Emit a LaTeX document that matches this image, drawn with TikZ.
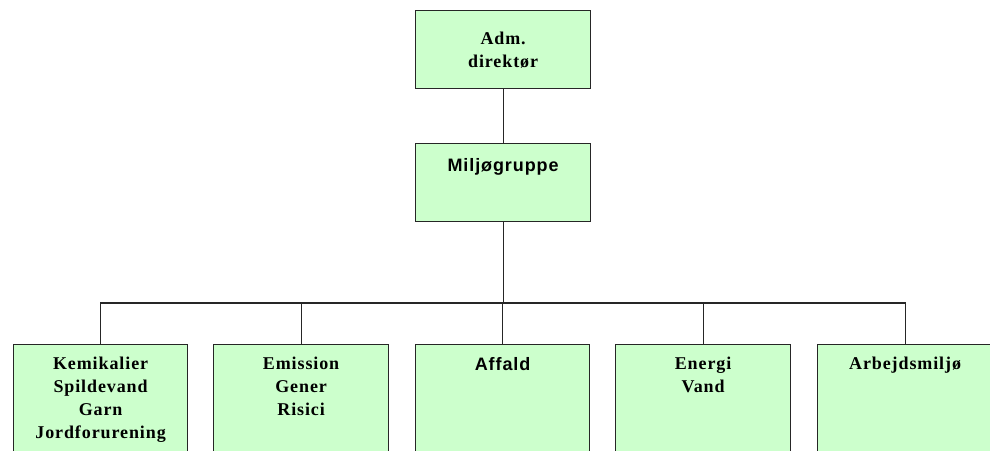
\documentclass[tikz,border=0pt]{standalone}
\usepackage{fontspec}
\setmainfont{Liberation Serif}[LetterSpace=5]
\newfontfamily\labelsans{Liberation Sans}[LetterSpace=5]
\definecolor{boxgreen}{HTML}{CCFFCC}
\definecolor{edgegray}{HTML}{262626}
\begin{document}
\begin{tikzpicture}[x=1pt,y=-1pt,
  box/.style={draw=edgegray, line width=1.2pt, fill=boxgreen,
    minimum width=175pt, inner sep=0pt, anchor=north west},
  topbox/.style={box, minimum height=78pt},
  lowbox/.style={box, minimum height=125pt},
  caption/.style={font=\fontsize{18}{23}\selectfont\bfseries, align=center,
    inner sep=0pt, anchor=north},
  sanscaption/.style={caption, font=\fontsize{18}{23}\selectfont\labelsans\bfseries},
  link/.style={draw=edgegray, line width=1.2pt}]
\useasboundingbox (0,0) rectangle (990,450);
\clip (0,0) rectangle (990,450);

% top of the hierarchy
\node[topbox] (adm) at (415,10) {};
\node[topbox] (mil) at (415,143) {};

% department boxes, running past the lower edge
\node[lowbox, minimum width=174pt] (d1) at (13,344) {};
\node[lowbox] (d2) at (213,344) {};
\node[lowbox, minimum width=174pt] (d3) at (415,344) {};
\node[lowbox] (d4) at (615,344) {};
\node[lowbox] (d5) at (817,344) {};

% captions
\node[caption, anchor=center] (admtxt) at ([yshift=-1pt]adm.center) {Adm.\\direktør};
\node[sanscaption] (miltxt) at ([yshift=-15pt]mil.north) {Miljøgruppe};
\node[caption] (t1) at ([yshift=-13pt]d1.north) {Kemikalier\\Spildevand\\Garn\\Jordforurening};
\node[caption] (t2) at ([yshift=-13pt]d2.north) {Emission\\Gener\\Risici};
\node[sanscaption] (t3) at ([yshift=-13pt]d3.north) {Affald};
\node[caption] (t4) at ([yshift=-13pt]d4.north) {Energi\\Vand};
\node[caption] (t5) at ([yshift=-13pt]d5.north) {Arbejdsmiljø};

% connectors
\coordinate (bus) at (502,303);
\draw[link] (adm.south) -- (mil.south |- mil.north);
\draw[link] (mil.south) -- (mil.south |- bus);
\draw[link] (d1.north) -- (d1.north |- bus) -- (d5.north |- bus) -- (d5.north);
\draw[link] (d2.north) -- (d2.north |- bus);
\draw[link] (d3.north) -- (d3.north |- bus);
\draw[link] (d4.north) -- (d4.north |- bus);
\end{tikzpicture}
\end{document}
